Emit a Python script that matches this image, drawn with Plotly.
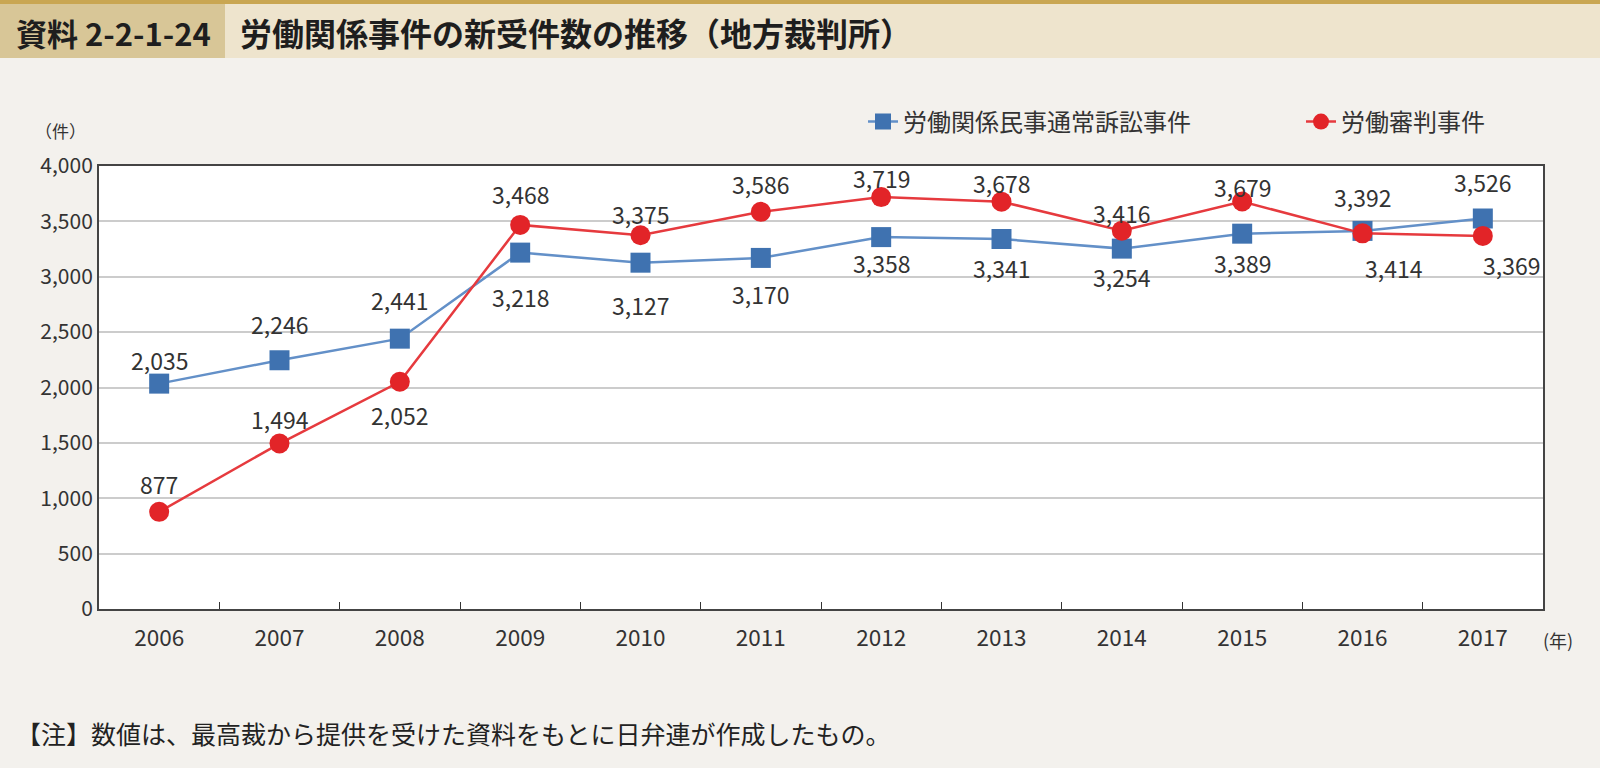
import plotly.graph_objects as go

years = ["2006", "2007", "2008", "2009", "2010", "2011", "2012", "2013", "2014", "2015", "2016", "2017"]
civil = [2035, 2246, 2441, 3218, 3127, 3170, 3358, 3341, 3254, 3389, 3414, 3526]
tribunal = [877, 1494, 2052, 3468, 3375, 3586, 3719, 3678, 3416, 3679, 3392, 3369]
civil_name = "労働関係民事通常訴訟事件"
tribunal_name = "労働審判事件"
y_ticks = [0, 500, 1000, 1500, 2000, 2500, 3000, 3500, 4000]

# label offsets in pixels (x, y; positive y = up)
civil_dx = [0, 0, 0, 0, 0, 0, 0, 0, 0, 0, 31, 0]
civil_dy = [24, 36, 39, -44, -42, -36, -26, -29, -28, -29, -37, 37]
tribunal_dx = [0, 0, 0, 0, 0, 0, 0, 0, 0, 0, 0, 29]
tribunal_dy = [28, 25, -33, 31, 21, 28, 19, 19, 18, 15, 36, -29]

FONT = "Noto Sans CJK JP"
L, R, T, B = 99, 57, 166, 159
W, H = 1600, 768
PW, PH = W - L - R, H - T - B


def px(x):
    return (x - L) / PW


def py(y):
    return (H - B - y) / PH


fig = go.Figure()
fig.add_trace(go.Scatter(
    x=years, y=civil, name=civil_name, mode="lines+markers",
    line=dict(color="#6390C8", width=2.5),
    marker=dict(symbol="square", size=20, color="#3F72B0"),
    cliponaxis=False, legend="legend",
))
fig.add_trace(go.Scatter(
    x=years, y=tribunal, name=tribunal_name, mode="lines+markers",
    line=dict(color="#E63A3E", width=2.5),
    marker=dict(symbol="circle", size=20, color="#E22428"),
    cliponaxis=False, legend="legend2",
))

label_font = dict(family=FONT, size=23, color="#333333")
for i, (v, dx, dy) in enumerate(zip(civil, civil_dx, civil_dy)):
    fig.add_annotation(x=i, y=v, xref="x", yref="y", text=f"{v:,}", showarrow=False,
                       xshift=dx, yshift=dy, xanchor="center", yanchor="middle", font=label_font)
for i, (v, dx, dy) in enumerate(zip(tribunal, tribunal_dx, tribunal_dy)):
    fig.add_annotation(x=i, y=v, xref="x", yref="y", text=f"{v:,}", showarrow=False,
                       xshift=dx, yshift=dy, xanchor="center", yanchor="middle", font=label_font)

shapes = [
    dict(type="rect", xref="paper", yref="paper", x0=px(0), x1=px(W), y0=py(58), y1=py(0),
         fillcolor="#EEE4CD", line=dict(width=0), layer="below"),
    dict(type="rect", xref="paper", yref="paper", x0=px(0), x1=px(225), y0=py(58), y1=py(4),
         fillcolor="#D8C697", line=dict(width=0), layer="below"),
    dict(type="rect", xref="paper", yref="paper", x0=px(0), x1=px(W), y0=py(4), y1=py(0),
         fillcolor="#C9A652", line=dict(width=0), layer="below"),
]

for a in [
    dict(text="<b>資料 2-2-1-24</b>", x=px(14), y=py(32), xanchor="left",
         font=dict(family=FONT, size=31, color="#1E1E1E")),
    dict(text="<b>労働関係事件の新受件数の推移（地方裁判所）</b>", x=px(238), y=py(32), xanchor="left",
         font=dict(family=FONT, size=32, color="#1E1E1E")),
    dict(text="（件）", x=px(60), y=py(130), xanchor="center",
         font=dict(family=FONT, size=17, color="#333333")),
    dict(text="(年)", x=px(1541), y=py(640), xanchor="left",
         font=dict(family=FONT, size=18, color="#333333")),
    dict(text="【注】数値は、最高裁から提供を受けた資料をもとに日弁連が作成したもの。", x=px(14), y=py(733),
         xanchor="left", font=dict(family=FONT, size=25, color="#222222")),
]:
    fig.add_annotation(xref="paper", yref="paper", yanchor="middle", showarrow=False, **a)

fig.update_layout(
    width=W, height=H,
    margin=dict(l=L, r=R, t=T, b=B, autoexpand=False),
    paper_bgcolor="#F3F1ED", plot_bgcolor="#FFFFFF",
    font=dict(family=FONT, size=20, color="#333333"),
    shapes=shapes,
    legend=dict(orientation="h", x=px(863), y=py(122), xanchor="left", yanchor="middle",
                bgcolor="rgba(0,0,0,0)", font=dict(family=FONT, size=24, color="#333333")),
    legend2=dict(orientation="h", x=px(1301), y=py(122), xanchor="left", yanchor="middle",
                 bgcolor="rgba(0,0,0,0)", font=dict(family=FONT, size=24, color="#333333")),
    xaxis=dict(type="category", tickson="boundaries", ticks="inside", ticklen=7,
               tickcolor="#333333", showgrid=False, showline=True, linecolor="#444444",
               linewidth=2, mirror=True, tickfont=dict(size=22.5, color="#333333"),
               ticklabelstandoff=8, range=[-0.5, len(years) - 0.5]),
    yaxis=dict(range=[0, 4000], tickvals=y_ticks, tickformat=",d", showgrid=True,
               gridcolor="#CCCCCC", gridwidth=2, showline=True, linecolor="#444444",
               linewidth=2, mirror=True, ticks="", tickfont=dict(size=21, color="#333333"),
               zeroline=False),
    showlegend=True,
)

fig.write_html("out.html", config={"displayModeBar": False},
               post_script="document.body.style.margin='0';document.body.style.overflow='hidden';")
